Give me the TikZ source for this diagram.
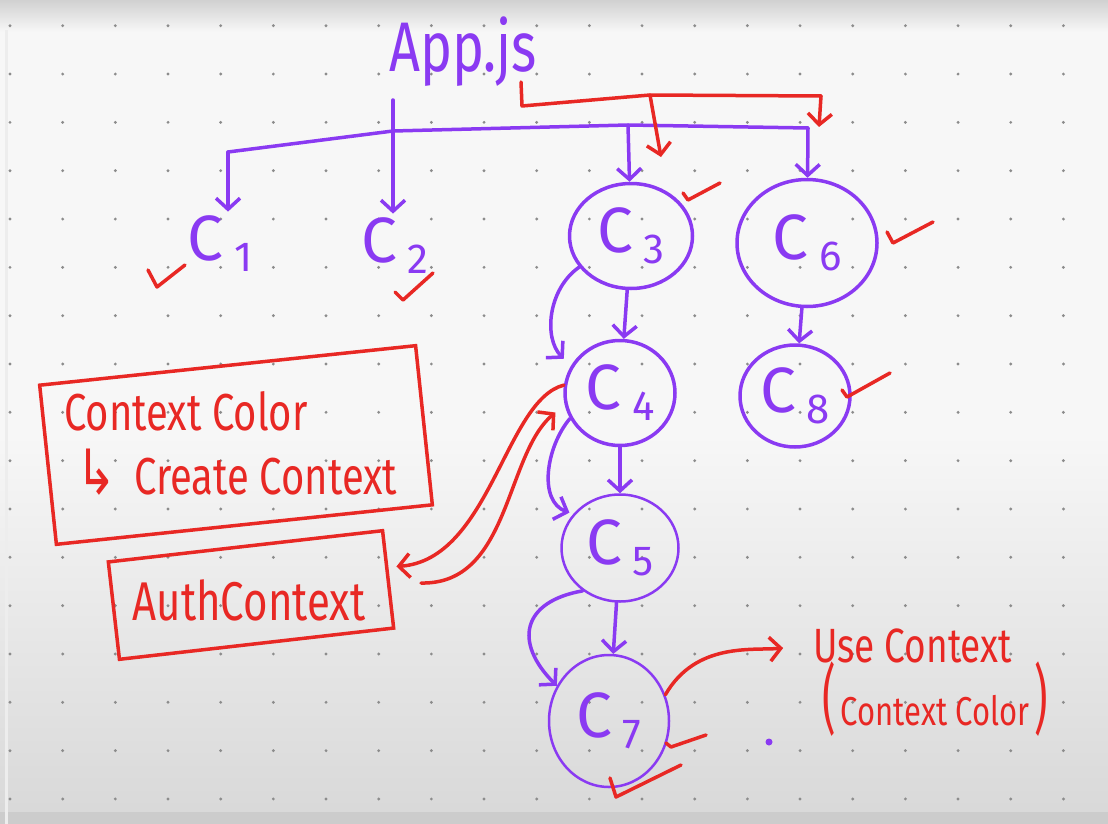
\documentclass[tikz,border=0pt]{standalone}
\usepackage{graphicx}
\usepackage{fontspec}
\setmainfont{Fira Sans}
\newfontfamily\symfont{DejaVu Sans}
\usetikzlibrary{arrows.meta,positioning,shapes.geometric,calc}
\definecolor{purp}{RGB}{138,58,242}
\definecolor{redink}{RGB}{232,40,36}
\definecolor{dotgray}{RGB}{140,140,140}
\newcommand{\cn}[1]{C\,\raisebox{-11pt}{\fontsize{42}{42}\selectfont #1}}
\newcommand{\tall}[1]{\scalebox{1}[1.3]{#1}}

\begin{document}
\begin{tikzpicture}[x = 1pt, y = -1pt,
  pline/.style = {draw=purp, line width=3.5pt, line cap=round, line join=round},
  rline/.style = {draw=redink, line width=3.5pt, line cap=round, line join=round},
  tip/.style = {-{Straight Barb[length=11pt, width=24pt]}},
  ring/.style = {ellipse, draw=purp, line width=3.5pt, inner sep=0pt, text=purp, font=\fontsize{64}{64}\selectfont},
  lbl/.style = {text=purp, font=\fontsize{64}{64}\selectfont},
  frame/.style = {draw=redink, line width=3.5pt},
  note/.style = {text=redink, font=\fontsize{40}{40}\selectfont}]
\useasboundingbox (0,0) rectangle (1108,824);
\fill[white!97!black] (0,0) rectangle (1108,824);
\shade[top color=white!97!black, bottom color=black!15] (0,430) rectangle (1108,812);
\fill[black!20] (0,812) rectangle (1108,824);
\shade[top color=black!18, bottom color=white!97!black] (0,0) rectangle (1108,32);
\fill[black!7] (5,30) rectangle (8,824);
\foreach \i in {0,...,20}
  \foreach \j in {0,...,16}
    \fill[dotgray] ({10+52.67*\i},{25.7+48.33*\j}) circle (1.6pt);

\node[text=purp, font=\fontsize{54}{54}\selectfont, anchor=base west, inner sep=0pt] (app) at (389,72) {\tall{App.js}};
\node[lbl, anchor=base] (c1) at (220,260) {\cn{1}};
\node[lbl, anchor=base] (c2) at (395,262) {\cn{2}};
\node[ring, minimum width=123pt, minimum height=105pt] (c3) at (631,236) {\cn{3}};
\node[ring, minimum width=140pt, minimum height=127pt] (c6) at (807,243) {\cn{6}};
\node[ring, minimum width=110pt, minimum height=105pt] (c4) at (620,393) {\cn{4}};
\node[ring, minimum width=110pt, minimum height=102pt] (c8) at (795,396) {\cn{8}};
\node[ring, line width=2.5pt, minimum width=117pt, minimum height=107pt] (c5) at (620,548) {\cn{5}};
\node[ring, line width=2.5pt, minimum width=120pt, minimum height=132pt] (c7) at (609,721) {\cn{7}};

\node[frame, rotate=6, minimum width=378pt, minimum height=160pt] (ctxbox) at (236,445) {};
\node[note, anchor=base west, inner sep=0pt] (ctx) at (64,430) {\tall{Context Color}};
\node[note, anchor=base west, inner sep=0pt] (create) at (76,494) {\tall{{\symfont\fontsize{48}{48}\selectfont ↳}\hspace{18pt}Create Context}};
\node[frame, rotate=6.5, minimum width=276pt, minimum height=98pt] (authbox) at (251,595) {};
\node[note, font=\fontsize{42}{42}\selectfont, inner sep=0pt] (auth) at (249,600) {\tall{AuthContext}};
\node[note, font=\fontsize{37}{37}\selectfont, anchor=base west, inner sep=0pt] (use) at (813,662) {\tall{Use Context}};
\node[note, font=\fontsize{31}{31}\selectfont, anchor=base west, inner sep=0pt] (usecol) at (822,725) {\scalebox{0.8}[1.45]{\fontsize{52}{52}\selectfont(}\,\tall{Context Color}\,\scalebox{0.8}[1.45]{\fontsize{52}{52}\selectfont)}};

\coordinate (appfoot) at (393,100);
\coordinate (busL) at (228,152);
\coordinate (busJ) at (393,131);
\coordinate (busM) at (628,125);
\coordinate (busR) at (808,128);
\coordinate (rs) at (521,82);
\coordinate (rc) at (522,106);
\coordinate (rm) at (650,95);
\coordinate (rr) at (821,96);
\coordinate (rt3) at (661,157);
\coordinate (rt6) at (819,127);
\coordinate (authout) at (421,583);

\draw[pline] (busL) -- (busJ) -- (busM) -- (busR);
\draw[pline, tip] (appfoot) -- (appfoot |- c2.north);
\draw[pline, tip] (busL) -- (busL |- c1.north);
\draw[pline, tip] (busM) -- (c3);
\draw[pline, tip] (busR) -- (c6);
\draw[rline] (rs) -- (rc) -- (rm) -- (rr);
\draw[rline, tip] (rm) -- (rt3);
\draw[rline, tip] (rr) -- (rt6);

\draw[pline, tip] (c3) -- (c4);
\draw[pline, tip] (c6) -- (c8);
\draw[pline, tip] (c4) -- (c5);
\draw[pline, tip] (c5) -- (c7);
\draw[pline, tip, shorten >=10pt] (c3.211) to[out=215, in=135] (c4.151);
\draw[pline, tip, shorten >=4pt] (c4.207) to[out=230, in=160] (c5.144);
\draw[pline, tip] (c5.229) to[out=190, in=135, looseness=1.6] (c7.146);

\draw[rline, tip, shorten >=8pt] (c4.172) .. controls (505,400) and (490,560) .. (authbox.5);
\draw[rline, tip, shorten >=12pt] (authout) .. controls (510,585) and (505,455) .. (c4.192);
\draw[rline, tip, shorten >=30pt] (c7.25) to[out=60, in=185] (use.west);

\draw[rline] (148,270) -- (157,287) -- (185,265);
\draw[rline] (395,292) -- (403,300) -- (433,273);
\draw[rline] (683,193) -- (688,200) -- (720,183);
\draw[rline] (887,232) -- (893,243) -- (933,222);
\draw[rline] (842,390) -- (847,397) -- (890,373);
\draw[rline] (666,743) -- (671,747) -- (706,735);
\draw[rline] (610,778) -- (616,797) -- (681,765);
\fill[purp] (769,742) circle (3.5pt);
\end{tikzpicture}
\end{document}
